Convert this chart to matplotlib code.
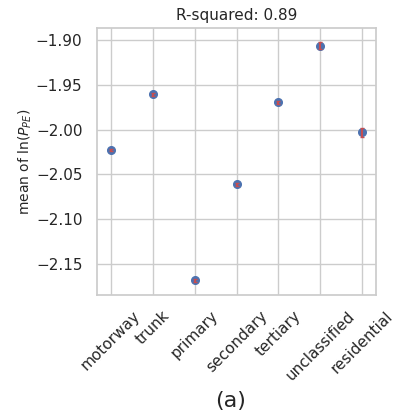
import matplotlib
matplotlib.use("Agg")
import matplotlib.pyplot as plt
import seaborn as sns

sns.set_theme(style="whitegrid")

# road classes and fitted means (with error bars)
roads = ["motorway", "trunk", "primary", "secondary", "tertiary", "unclassified", "residential"]
means = [-2.0227, -1.9608, -2.1682, -2.0612, -1.9694, -1.9064, -2.0030]
errs = [0.0015, 0.0015, 0.0015, 0.0015, 0.0015, 0.004, 0.005]
yticks = [-1.90, -1.95, -2.00, -2.05, -2.10, -2.15]

fig = plt.figure(figsize=(3.94, 4.18), dpi=100)
ax = fig.add_axes([97 / 394, 1 - 295 / 418, 279 / 394, 267 / 418])

x = list(range(len(roads)))
ax.plot(x, means, "o", color="#4c72b0", markersize=5.5, zorder=3)
ax.errorbar(x, means, yerr=errs, fmt="none", ecolor="#c44e52", elinewidth=1.5,
            capsize=1.5, zorder=4)

ax.set_xlim(-0.33, 6.33)
ax.set_ylim(-2.1846, -1.8866)
ax.set_xticks(x)
ax.set_xticklabels(roads, rotation=45, ha="center", fontsize=11)
ax.set_yticks(yticks)
ax.set_yticklabels([f"{v:.2f}".replace("-", "\u2212") for v in yticks], fontsize=11)
ax.tick_params(axis="y", length=0, pad=10.5)
ax.set_ylabel("mean of ln($P_{PE}$)", fontsize=10, labelpad=1)
ax.set_title("R-squared: 0.89", fontsize=11, pad=6)
ax.set_xlabel("(a)", fontsize=16, labelpad=6, x=0.48)
for s in ax.spines.values():
    s.set_color("#cccccc")

fig.savefig("out.png", dpi=100)
